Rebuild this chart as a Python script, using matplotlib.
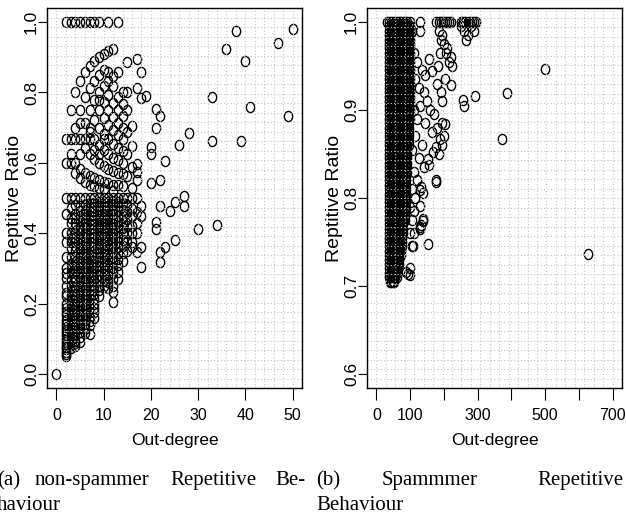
import matplotlib
matplotlib.use('Agg')
import matplotlib.pyplot as plt
from matplotlib.path import Path
from matplotlib.transforms import Affine2D
import numpy as np

# ---------------- (a) non-spammer: out-degree vs repetitive ratio ----------------
ns_zero_deg = [0]
ns_zero_ratio = [0.0]

# ratio 1.0 row
ns_full_deg = [2, 3, 4, 5, 6, 7, 8, 9, 11, 13]

# main cloud, one list of ratios per out-degree
ns_core_deg = [2, 3, 4, 5, 6, 7, 8, 9, 10, 11, 12, 13, 14, 15, 16, 17]
ns_col2 = [0.667, 0.6, 0.5, 0.455, 0.4, 0.375, 0.333, 0.3, 0.286, 0.273, 0.25, 0.231, 0.222, 0.2, 0.188,
           0.176, 0.167, 0.154, 0.143, 0.133, 0.125, 0.118, 0.111, 0.1, 0.091, 0.083, 0.077, 0.071, 0.063,
           0.056, 0.05]
ns_col3 = [0.75, 0.667, 0.625, 0.6, 0.5, 0.471, 0.444, 0.429, 0.4, 0.385, 0.375, 0.357, 0.333, 0.313,
           0.3, 0.286, 0.267, 0.25, 0.235, 0.222, 0.211, 0.2, 0.188, 0.176, 0.167, 0.158, 0.15, 0.143, 0.133,
           0.125, 0.115, 0.107, 0.1, 0.091, 0.083, 0.075]
ns_col4 = [0.8, 0.7, 0.667, 0.6, 0.571, 0.5, 0.48, 0.455, 0.444, 0.429, 0.417, 0.4, 0.385, 0.375, 0.364,
           0.35, 0.333, 0.318, 0.308, 0.294, 0.286, 0.273, 0.263, 0.25, 0.238, 0.227, 0.217, 0.2, 0.19, 0.182,
           0.167, 0.158, 0.15, 0.143, 0.133, 0.125, 0.115, 0.105, 0.095, 0.087, 0.08]
ns_col5 = [0.833, 0.75, 0.714, 0.667, 0.625, 0.583, 0.556, 0.5, 0.478, 0.462, 0.45, 0.435, 0.417, 0.409, 0.4,
           0.385, 0.37, 0.357, 0.348, 0.333, 0.32, 0.313, 0.3, 0.286, 0.276, 0.263, 0.25, 0.24, 0.231, 0.222,
           0.208, 0.2, 0.19, 0.179, 0.167, 0.154, 0.143, 0.13, 0.118, 0.105, 0.09]
ns_col6 = [0.857, 0.786, 0.714, 0.667, 0.643, 0.571, 0.545, 0.5, 0.48, 0.467, 0.455, 0.444, 0.429,
           0.417, 0.4, 0.389, 0.375, 0.364, 0.353, 0.34, 0.333, 0.318, 0.308, 0.294, 0.286, 0.273, 0.26, 0.25,
           0.238, 0.226, 0.214, 0.2, 0.188, 0.176, 0.167, 0.154, 0.143, 0.128, 0.115]
ns_col7 = [0.875, 0.813, 0.75, 0.7, 0.688, 0.667, 0.625, 0.563, 0.538, 0.5, 0.485, 0.471, 0.46,
           0.448, 0.438, 0.425, 0.412, 0.4, 0.387, 0.375, 0.364, 0.35, 0.338, 0.325, 0.313, 0.3, 0.289, 0.278,
           0.265, 0.25, 0.238, 0.225, 0.212, 0.2, 0.188, 0.175, 0.163, 0.15, 0.138, 0.113]
ns_col8 = [0.889, 0.833, 0.778, 0.722, 0.667, 0.636, 0.611, 0.556, 0.533, 0.5, 0.486,
           0.474, 0.462, 0.45, 0.438, 0.425, 0.412, 0.4, 0.389, 0.375, 0.364, 0.35, 0.333, 0.32, 0.308, 0.294,
           0.28, 0.267, 0.25, 0.238, 0.226, 0.212, 0.2, 0.188, 0.176, 0.16]
ns_col9 = [0.9, 0.85, 0.8, 0.778, 0.75, 0.7, 0.65, 0.625, 0.6, 0.55, 0.529, 0.5,
           0.488, 0.476, 0.464, 0.452, 0.44, 0.429, 0.417, 0.405, 0.393, 0.381, 0.37, 0.357, 0.345, 0.333, 0.32,
           0.308, 0.294, 0.28, 0.267, 0.25, 0.238, 0.222]
ns_col10 = [0.909, 0.864, 0.818, 0.773, 0.727, 0.682, 0.667, 0.636, 0.591, 0.545,
            0.526, 0.5, 0.488, 0.476, 0.462, 0.45, 0.438, 0.426, 0.413, 0.4, 0.389, 0.375, 0.364, 0.35, 0.338,
            0.325, 0.31, 0.296, 0.28, 0.265, 0.25]
ns_col11 = [0.917, 0.857, 0.833, 0.792, 0.75, 0.708, 0.667, 0.625, 0.583, 0.542,
            0.5, 0.49, 0.478, 0.467, 0.455, 0.444, 0.43, 0.417, 0.405, 0.393, 0.38, 0.367, 0.355, 0.34, 0.326,
            0.31, 0.295, 0.28, 0.262, 0.245]
ns_col12 = [0.923, 0.846, 0.818, 0.769, 0.731, 0.692, 0.654, 0.615, 0.577, 0.538, 0.52, 0.5,
            0.49, 0.48, 0.466, 0.455, 0.44, 0.427, 0.414, 0.4, 0.388, 0.375, 0.36, 0.346, 0.333, 0.318, 0.3,
            0.286, 0.27, 0.25, 0.232, 0.205]
ns_col13 = [0.857, 0.786, 0.75, 0.714, 0.679, 0.643, 0.607, 0.571, 0.536, 0.5, 0.49, 0.476,
            0.462, 0.448, 0.433, 0.42, 0.405, 0.39, 0.375, 0.36, 0.344, 0.327, 0.31, 0.29, 0.27]
ns_col14 = [0.8, 0.767, 0.733, 0.7, 0.667, 0.633, 0.6, 0.567, 0.533, 0.5, 0.485, 0.467, 0.45, 0.433, 0.415, 0.4,
            0.382, 0.364, 0.345, 0.32]
ns_col15 = [0.8, 0.75, 0.688, 0.625, 0.563, 0.5, 0.48, 0.46, 0.44, 0.42, 0.4, 0.375, 0.35]
ns_col16 = [0.706, 0.647, 0.588, 0.529, 0.5, 0.47, 0.45, 0.42, 0.4, 0.375, 0.36]
ns_col17 = [0.597, 0.574, 0.55, 0.5, 0.46, 0.43, 0.4, 0.346]
ns_cols = [ns_col2, ns_col3, ns_col4, ns_col5, ns_col6, ns_col7, ns_col8, ns_col9,
           ns_col10, ns_col11, ns_col12, ns_col13, ns_col14, ns_col15, ns_col16, ns_col17]

# scattered users with larger out-degree
ns_tail_deg = [15, 17, 18, 17, 19, 18, 21, 22, 21, 28,
               26, 33, 39, 33, 41, 49, 36, 38, 40, 47,
               50, 20, 20, 23, 20, 22, 27, 27, 25, 24,
               22, 18, 18, 21, 21, 30, 34, 25, 23, 22,
               22, 18, 18]
ns_tail_ratio = [0.886, 0.895, 0.858, 0.812, 0.79, 0.783, 0.753, 0.733, 0.7, 0.684,
                 0.652, 0.661, 0.661, 0.786, 0.76, 0.732, 0.923, 0.976, 0.888, 0.94,
                 0.98, 0.645, 0.625, 0.606, 0.542, 0.55, 0.507, 0.478, 0.488, 0.464,
                 0.478, 0.478, 0.45, 0.432, 0.412, 0.412, 0.424, 0.38, 0.36, 0.347,
                 0.318, 0.304, 0.36]

# ---------------- (b) spammer ----------------
# saturated block: out-degree columns, lowest ratio reached in each column, ratio levels
sp_core_deg = [36, 40, 44, 48, 52, 56, 60, 64, 68, 72, 76, 80, 84, 88, 92, 96, 100]
sp_core_floor = [0.708, 0.705, 0.703, 0.703, 0.704, 0.706, 0.71, 0.716, 0.725, 0.735, 0.745, 0.76,
                 0.775, 0.79, 0.83, 0.86, 0.89]
sp_levels = [0.705, 0.71, 0.715, 0.72, 0.725, 0.73, 0.735, 0.74, 0.745, 0.75,
             0.755, 0.76, 0.765, 0.77, 0.775, 0.78, 0.785, 0.79, 0.795, 0.8,
             0.805, 0.81, 0.815, 0.82, 0.825, 0.83, 0.835, 0.84, 0.845, 0.85,
             0.855, 0.86, 0.865, 0.87, 0.875, 0.88, 0.885, 0.89, 0.895, 0.9,
             0.905, 0.91, 0.915, 0.92, 0.925, 0.93, 0.935, 0.94, 0.945, 0.95,
             0.955, 0.96, 0.965, 0.97, 0.975, 0.98, 0.985, 0.99, 0.995]

# ratio 1.0 row
sp_full_deg = [32, 38, 44, 50, 56, 62, 68, 74, 80, 86, 92, 98, 130,
               178, 184, 190, 196, 202, 208, 214, 220,
               252, 258, 264, 270, 276, 282, 288, 295]

# points around the block and outliers
sp_rim_deg = [100, 105, 130, 185, 195, 200, 210, 205, 220, 215,
              190, 260, 270, 280, 290, 265, 250, 187, 157, 225,
              182, 166, 202, 221, 180, 190, 195, 256, 261, 291,
              387, 500, 372, 200, 195, 185, 627, 177, 137, 128,
              137, 128, 105, 152, 98, 98, 88, 202, 187, 177,
              167, 152, 157, 177, 133, 128, 137, 133, 108, 93,
              128, 110, 120, 135, 145, 115, 125, 140, 150, 160,
              170, 130, 110, 120, 145, 165, 180, 195, 115, 135,
              105, 125, 140, 110, 120, 105, 115, 110, 105, 100,
              100, 112]
sp_rim_ratio = [0.985, 0.99, 0.99, 0.99, 0.985, 0.975, 0.97, 0.965, 0.96, 0.955,
                0.98, 0.99, 0.985, 0.995, 0.99, 0.98, 0.995, 0.965, 0.958, 0.95,
                0.95, 0.944, 0.935, 0.928, 0.93, 0.92, 0.91, 0.911, 0.905, 0.916,
                0.919, 0.947, 0.867, 0.87, 0.86, 0.85, 0.736, 0.818, 0.806, 0.791,
                0.774, 0.767, 0.746, 0.748, 0.72, 0.713, 0.716, 0.884, 0.867, 0.858,
                0.852, 0.844, 0.837, 0.82, 0.812, 0.809, 0.776, 0.769, 0.746, 0.714,
                0.765, 0.965, 0.955, 0.945, 0.94, 0.935, 0.925, 0.92, 0.91, 0.9,
                0.895, 0.905, 0.9, 0.89, 0.885, 0.875, 0.88, 0.885, 0.87, 0.86,
                0.855, 0.845, 0.835, 0.83, 0.82, 0.81, 0.8, 0.785, 0.775, 0.76,
                0.79, 0.76]

# ---------------- assemble ----------------
ns_x = list(ns_zero_deg) + list(ns_full_deg) + list(ns_tail_deg)
ns_y = list(ns_zero_ratio) + [1.0] * len(ns_full_deg) + list(ns_tail_ratio)
for d, col in zip(ns_core_deg, ns_cols):
    ns_x += [d] * len(col)
    ns_y += col

sp_x = list(sp_full_deg) + list(sp_rim_deg)
sp_y = [1.0] * len(sp_full_deg) + list(sp_rim_ratio)
for d, lo in zip(sp_core_deg, sp_core_floor):
    lv = [v for v in sp_levels if v >= lo]
    sp_x += [d] * len(lv)
    sp_y += lv

W, H = 626, 515
fig = plt.figure(figsize=(W / 100, H / 100), dpi=100)
sans = ['Liberation Sans', 'DejaVu Sans']
serif = ['Liberation Serif', 'DejaVu Serif']

# R draws open circles; the picture is squeezed sideways so they look oval
oval = Path.unit_circle().transformed(Affine2D().scale(0.82, 1.0))


def panel(left_px, xs, ys, xlim, ylim, xticks, xlabels, yticks, ylabels):
    ax = fig.add_axes([left_px / W, 1 - 388 / H, 255 / W, 380 / H])
    ax.plot(xs, ys, ls='none', marker=oval, ms=7.3, mfc='none', mec='black', mew=1.0, zorder=2)
    ax.set_xlim(*xlim)
    ax.set_ylim(*ylim)
    # dotted grid drawn over the points, like grid() after plot() in R
    for gx in np.linspace(xlim[0], xlim[1], 28):
        ax.axvline(gx, color='#c4c4c4', lw=0.8, ls=(0, (1, 2)), zorder=3)
    for gy in np.linspace(ylim[0], ylim[1], 41):
        ax.axhline(gy, color='#c4c4c4', lw=0.8, ls=(0, (1, 2)), zorder=3)
    ax.set_xticks(xticks)
    ax.set_xticklabels(xlabels, fontsize=11.5, fontfamily=sans)
    ax.set_yticks(yticks)
    ax.set_yticklabels(ylabels, fontsize=12.5, fontfamily=sans)
    for lab in ax.get_yticklabels():
        lab.set_rotation(90)
        lab.set_rotation_mode('anchor')
        lab.set_ha('center')
        lab.set_va('baseline')
    ax.tick_params(axis='x', length=8.6, width=0.8, pad=6)
    ax.tick_params(axis='y', length=6.5, width=0.8, pad=1.5)
    for s in ax.spines.values():
        s.set_linewidth(1.0)
        s.set_zorder(4)
    fig.text((left_px + 127.5) / W, 1 - 440 / H, 'Out-degree', fontsize=12.5, fontfamily=sans,
             ha='center', va='center')
    fig.text((left_px - 28) / W, 1 - 198 / H, 'Reptitive Ratio', fontsize=14, fontfamily=sans,
             rotation=90, rotation_mode='anchor', ha='center', va='baseline')
    return ax


panel(47, ns_x, ns_y, (-2, 52), (-0.04, 1.04),
      [0, 10, 20, 30, 40, 50], ['0', '10', '20', '30', '40', '50'],
      [0.0, 0.2, 0.4, 0.6, 0.8, 1.0], ['0.0', '0.2', '0.4', '0.6', '0.8', '1.0'])
panel(367, sp_x, sp_y, (-28, 728), (0.584, 1.016),
      [0, 100, 200, 300, 400, 500, 600, 700], ['0', '100', '', '300', '', '500', '', '700'],
      [0.6, 0.7, 0.8, 0.9, 1.0], ['0.6', '0.7', '0.8', '0.9', '1.0'])


# captions (justified words placed one by one)
def cap(x, y, s, ha='left'):
    fig.text(x / W, 1 - y / H, s, fontsize=15, fontfamily=serif, ha=ha, va='baseline')


cap(-3, 485, '(a)')
cap(35, 485, 'non-spammer')
cap(170, 485, 'Repetitive')
cap(305, 485, 'Be-', ha='right')
cap(-3, 510, 'haviour')
cap(316, 485, '(b)')
cap(382, 485, 'Spammmer')
cap(624, 485, 'Repetitive', ha='right')
cap(316, 510, 'Behaviour')

fig.savefig('out.png', dpi=100)
